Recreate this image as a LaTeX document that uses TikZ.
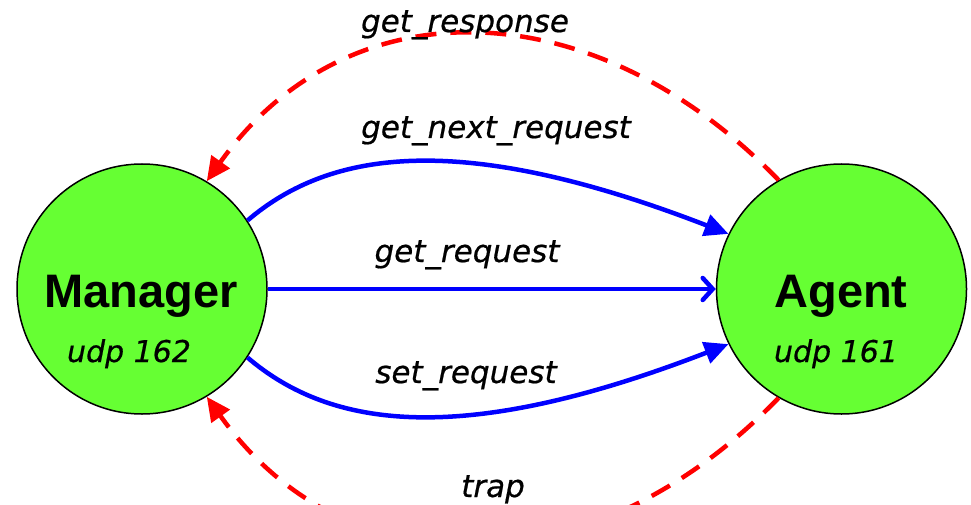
\documentclass[tikz,border=0pt]{standalone}
\usepackage{fontspec}
\setmainfont{Liberation Sans}
\newfontfamily\labfont[ItalicFeatures={FakeBold=0.6}]{DejaVu Sans}
\usetikzlibrary{arrows.meta}
\definecolor{nodegreen}{RGB}{102,255,51}
\tikzset{
  party/.style={circle, draw=black, line width=1.5pt, fill=nodegreen, minimum size=250pt, inner sep=0pt},
  namefont/.style={font=\fontsize{47}{50}\selectfont\bfseries, anchor=base, inner sep=0pt},
  portfont/.style={font=\labfont\itshape\fontsize{30}{32}\selectfont, anchor=base, inner sep=0pt},
  msg/.style={font=\labfont\itshape\fontsize{31}{33}\selectfont, anchor=base, inner sep=0pt},
  reqline/.style={draw=blue, line width=4.5pt, -{Triangle[length=24pt,width=22pt]}},
  midline/.style={draw=blue, line width=4.5pt, -{Straight Barb[length=10pt,width=22pt,line width=4.5pt,line cap=round]}},
  respline/.style={draw=red, line width=4.5pt, dash pattern=on 21pt off 14pt, -{Triangle[length=24pt,width=22pt]}}
}
\begin{document}
\begin{tikzpicture}[x=1pt,y=-1pt]
\useasboundingbox (0,0) rectangle (971,505);
\node[party] (M) at (142,289) {};
\node[party] (A) at (841.5,289) {};
\node[namefont] (Mname) at (141,307) {Manager};
\node[portfont] (Mport) at (129,362) {udp 162};
\node[namefont] (Aname) at (841,307) {Agent};
\node[portfont] (Aport) at (836,362) {udp 161};

\draw[reqline] (M.33) .. controls (330,150) and (460,130) .. (A.154);
\draw[midline] (M.east) -- (A.west);
\draw[reqline] (M.-33) .. controls (330,428) and (460,448) .. (A.-154);
\draw[respline] (A.120) .. controls (590,-14) and (346,-14) .. (M.59);
\draw[respline] (A.-120) .. controls (590,592) and (346,592) .. (M.-59);

\node[msg] (lresp) at (465,32) {get\_response};
\node[msg] (lnext) at (496,138) {get\_next\_request};
\node[msg] (lget) at (467,262) {get\_request};
\node[msg] (lset) at (466,383) {set\_request};
\node[msg] (ltrap) at (493,497) {trap};
\end{tikzpicture}
\end{document}
